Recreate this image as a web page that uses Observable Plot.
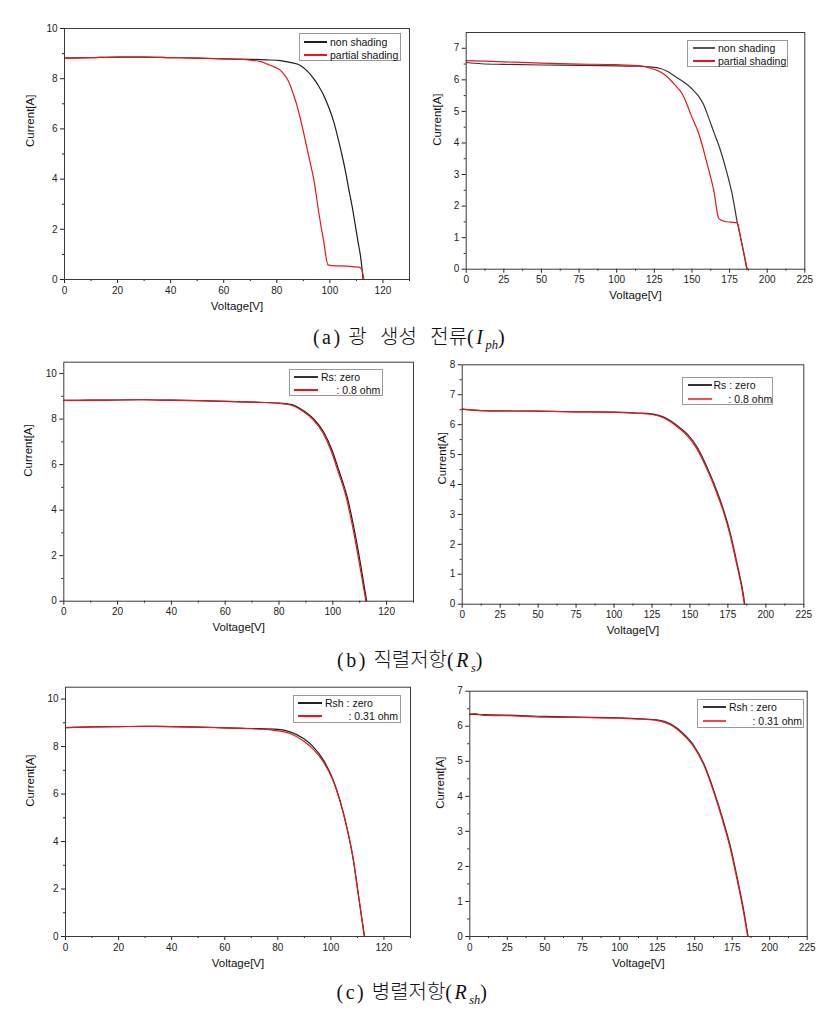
<!DOCTYPE html>
<html><head><meta charset="utf-8">
<script src="https://cdn.jsdelivr.net/npm/d3@7"></script>
<script src="https://cdn.jsdelivr.net/npm/@observablehq/plot@0.6"></script>
<style>
html,body{margin:0;padding:0;background:#fff;}
#root{position:relative;width:828px;height:1010px;overflow:hidden;font-family:"Liberation Sans",Arial,sans-serif;}
.pnl{position:absolute;}
.lg{position:absolute;border:1px solid #999;background:#fff;box-sizing:border-box;}
.lgline{position:absolute;}
.lgtxt{position:absolute;font-size:10.5px;color:#111;line-height:12px;white-space:pre;transform:translateY(-50%);}
.cap{position:absolute;transform:translate(-50%,-50%);white-space:nowrap;color:#111;font-size:20px;}
.lat{font-family:"Liberation Serif","DejaVu Serif",serif;letter-spacing:2.5px;}
.kr{font-family:"Noto Sans CJK KR",sans-serif;font-weight:300;word-spacing:9px;}
.cap i{font-family:"Liberation Serif",serif;}
.cap sub{font-size:12.5px;vertical-align:-5px;letter-spacing:0;}
</style>
</head><body><div id="root"></div>
<script>
// ---------- tick values ----------
const xMajorL = [0, 20, 40, 60, 80, 100, 120];
const xMinorL = [10, 30, 50, 70, 90, 110, 130];
const xMajorR = [0, 25, 50, 75, 100, 125, 150, 175, 200, 225];
const xMinorR = [12.5, 37.5, 62.5, 87.5, 112.5, 137.5, 162.5, 187.5, 212.5];
const yMajor10 = [0, 2, 4, 6, 8, 10];
const yMinor10 = [1, 3, 5, 7, 9];
const yMajor7 = [0, 1, 2, 3, 4, 5, 6, 7];
const yMinor7 = [0.5, 1.5, 2.5, 3.5, 4.5, 5.5, 6.5];
const yMajor8 = [0, 1, 2, 3, 4, 5, 6, 7, 8];
const yMinor8 = [0.5, 1.5, 2.5, 3.5, 4.5, 5.5, 6.5, 7.5];

// ---------- series: [voltage, current] ----------
// (a) photo-generated current, left module
const aL_non = [[0,8.82],[10,8.84],[20,8.86],[30,8.86],[40,8.84],[50,8.82],[60,8.79],[70,8.77],[76,8.75],[81.4,8.72],[85,8.65],[88.9,8.53],[91.5,8.3],[93.9,8.0],[95.8,7.7],[97.7,7.33],[99.6,6.85],[101.5,6.27],[103,5.65],[104.6,4.94],[105.9,4.3],[107.1,3.61],[108.4,2.9],[109.6,2.15],[110.6,1.5],[111.5,0.96],[112.1,0.45],[112.5,0]];
const aL_partial = [[0,8.82],[10,8.84],[20,8.86],[30,8.86],[40,8.84],[50,8.82],[60,8.79],[66,8.77],[70,8.74],[74,8.68],[76.4,8.58],[79,8.47],[81.4,8.33],[82.7,8.18],[83.9,8.0],[85.2,7.7],[86.4,7.33],[87.7,6.9],[88.9,6.4],[90.2,5.8],[91.4,5.21],[92.7,4.6],[93.9,4.01],[95.8,2.68],[97.7,1.49],[99.3,0.58],[101,0.55],[106.5,0.53],[110.9,0.49],[112,0.4],[112.8,0]];
// (a) right module
const aR_non = [[0,6.55],[10,6.51],[25,6.49],[50,6.47],[75,6.46],[100,6.44],[115.8,6.43],[122,6.41],[129.1,6.36],[133.5,6.27],[137.9,6.14],[142.3,6.0],[146.8,5.85],[150.7,5.68],[154.6,5.47],[157.5,5.24],[160.1,4.93],[164.5,4.35],[169,3.76],[173.4,3.03],[176.7,2.39],[180.1,1.49],[182.3,1.01],[186.5,0]];
const aR_partial = [[0,6.61],[25,6.57],[50,6.53],[75,6.5],[100,6.48],[115.8,6.44],[122,6.38],[129.1,6.25],[133.5,6.1],[137.9,5.88],[143.5,5.56],[146.5,5.25],[149,4.93],[154.6,4.29],[160.1,3.34],[164.5,2.5],[167.9,1.6],[171.2,1.52],[176,1.49],[180.1,1.47],[182.3,1.01],[186.7,0]];
// (b) series resistance
const bL_zero = [[0,8.82],[10,8.83],[20,8.84],[30,8.85],[40,8.83],[50,8.81],[60,8.78],[70,8.75],[80,8.7],[84.3,8.65],[89.3,8.36],[93,8.0],[96.7,7.41],[99.8,6.61],[102.3,5.73],[105.4,4.56],[107.8,3.25],[110.3,1.64],[112.6,0]];
const bL_08 = [[0,8.82],[10,8.83],[20,8.84],[30,8.85],[40,8.83],[50,8.81],[60,8.78],[70,8.75],[80,8.69],[84,8.63],[88.9,8.34],[92.6,7.98],[96.3,7.4],[99.4,6.6],[101.9,5.72],[105,4.56],[107.4,3.25],[109.9,1.64],[112.3,0]];
const bR_zero = [[0,6.52],[10,6.48],[25,6.46],[50,6.45],[75,6.43],[100,6.42],[115,6.39],[125,6.36],[132.8,6.25],[141.6,5.97],[148.2,5.69],[154.7,5.25],[161.3,4.58],[166.8,3.91],[172.3,3.13],[176.7,2.35],[181.1,1.35],[185.5,0.23],[186.1,0]];
const bR_08 = [[0,6.52],[10,6.48],[25,6.46],[50,6.45],[75,6.43],[100,6.41],[115,6.38],[125,6.34],[132.8,6.22],[141.6,5.93],[148,5.64],[154.5,5.2],[161,4.54],[166.5,3.87],[172,3.1],[176.4,2.32],[180.8,1.33],[185.2,0.22],[185.8,0]];
// (c) shunt resistance
const cL_zero = [[0,8.8],[10,8.83],[20,8.84],[30,8.85],[40,8.84],[50,8.82],[60,8.79],[70,8.76],[80,8.72],[84.6,8.62],[89.7,8.34],[93.4,7.99],[97.2,7.43],[100.9,6.58],[103.4,5.74],[106,4.61],[108.5,3.21],[110.3,1.8],[112.6,0]];
const cL_031 = [[0,8.8],[10,8.83],[20,8.84],[30,8.85],[40,8.84],[50,8.82],[60,8.79],[70,8.75],[78,8.69],[84.6,8.55],[89.7,8.23],[93.4,7.88],[97.2,7.35],[100.9,6.55],[103.4,5.72],[106,4.6],[108.5,3.2],[110.3,1.8],[112.7,0]];
const cR_zero = [[0,6.34],[10,6.33],[25,6.32],[50,6.28],[75,6.26],[100,6.24],[115,6.21],[125,6.18],[133.8,6.07],[142.7,5.78],[149.4,5.45],[156.1,4.93],[162.7,4.17],[168.3,3.41],[173.9,2.55],[178.3,1.69],[182.7,0.74],[185.6,0]];
const cR_031 = [[0,6.35],[3,6.36],[10,6.31],[25,6.3],[50,6.26],[75,6.25],[100,6.23],[115,6.2],[125,6.16],[133.8,6.04],[142.7,5.74],[149.4,5.41],[156,4.9],[162.5,4.14],[168,3.39],[173.6,2.53],[178,1.67],[182.4,0.73],[185.3,0]];

// ---------- labels ----------
const xLabel = "Voltage[V]";
const yLabel = "Current[A]";
const legA = ["non shading", "partial shading"];
const legBL = ["Rs: zero", ": 0.8 ohm"];
const legBR = ["Rs : zero", ": 0.8 ohm"];
const legC = ["Rsh : zero", ": 0.31 ohm"];

const BLACK = "#1e1e1e", GRAY = "#333", RED = "#e8161b";

const panels = [
  {svg:[0,0,414,318], frame:[64,28,409,279], xd:[0,130], yd:[0,10], xM:xMajorL, xm:xMinorL, yM:yMajor10, ym:yMinor10,
   series:[[aL_non,BLACK],[aL_partial,RED]], ylab:[-34,-7],
   lg:{box:[299,33,401,61], line:[304,327], rows:[[41.5,BLACK,[[legA[0],330]]],[54.5,RED,[[legA[1],330]]]]}},
  {svg:[414,0,414,318], frame:[465.7,32,804.3,268.7], xd:[0,225], yd:[0,7.5], xM:xMajorR, xm:xMinorR, yM:yMajor7, ym:yMinor7,
   series:[[aR_non,GRAY],[aR_partial,RED]], ylab:[-29,-5],
   lg:{box:[687,40,788,67], line:[693,715], rows:[[48,"#555",[[legA[0],718]]],[61,RED,[[legA[1],718]]]]}},
  {svg:[0,350,414,300], frame:[63.3,361.7,413,600.7], xd:[0,130], yd:[0,10.5], xM:xMajorL, xm:xMinorL, yM:yMajor10, ym:yMinor10,
   series:[[bL_zero,BLACK],[bL_08,RED]], ylab:[-35,-5],
   lg:{box:[289,369,383,396], line:[294,318], rows:[[376.7,"#333",[[legBL[0],321]]],[390.3,RED,[[legBL[1],336.5]]]]}},
  {svg:[414,350,414,300], frame:[461.7,364.3,803.3,603.7], xd:[0,225], yd:[0,8], xM:xMajorR, xm:xMinorR, yM:yMajor8, ym:yMinor8,
   series:[[bR_zero,GRAY],[bR_08,RED]], ylab:[-20,0],
   lg:{box:[682,377,773,405], line:[688,712], rows:[[385,"#333",[[legBR[0],713.5]]],[399,"#f05050",[[legBR[1],728.5]]]]}},
  {svg:[0,680,414,300], frame:[65,686.7,410,936], xd:[0,130], yd:[0,10.5], xM:xMajorL, xm:xMinorL, yM:yMajor10, ym:yMinor10,
   series:[[cL_zero,BLACK],[cL_031,RED]], ylab:[-35,-5],
   lg:{box:[293,695,401,723], line:[298,322], rows:[[703.3,"#222",[[legC[0],325]]],[716,RED,[[legC[1],348.5]]]]}},
  {svg:[414,680,414,300], frame:[469.3,690.7,806.7,936], xd:[0,225], yd:[0,7], xM:xMajorR, xm:xMinorR, yM:yMajor7, ym:yMinor7,
   series:[[cR_zero,GRAY],[cR_031,RED]], ylab:[-29,-5],
   lg:{box:[697,699,804,728], line:[703,726], rows:[[707.3,"#333",[[legC[0],729]]],[720.7,"#f04848",[[legC[1],752.5]]]]}}
];

const root = document.getElementById("root");

for (const p of panels) {
  const [sl, st, W, H] = p.svg;
  const [fx0, fy0, fx1, fy1] = p.frame;
  const chart = Plot.plot({
    width: W, height: H,
    marginLeft: fx0 - sl, marginRight: sl + W - fx1,
    marginTop: fy0 - st, marginBottom: st + H - fy1,
    x: {domain: p.xd}, y: {domain: p.yd},
    style: {fontFamily: "'Liberation Sans', Arial, sans-serif", fontSize: "10px", color: "#222", background: "transparent", overflow: "visible"},
    marks: [
      Plot.axisX({ticks: p.xM, tickSize: 4, tickPadding: 3, tickFormat: d => String(d), label: null}),
      Plot.axisX({ticks: p.xm, tickSize: 2, tickFormat: () => "", label: null}),
      Plot.axisY({ticks: p.yM, tickSize: 4, tickPadding: 3, tickFormat: d => String(d), label: null}),
      Plot.axisY({ticks: p.ym, tickSize: 2, tickFormat: () => "", label: null}),
      ...p.series.map(([data, color]) => Plot.line(data, {x: d => d[0], y: d => d[1], stroke: color, strokeWidth: 1.2, curve: "monotone-x"})),
      Plot.frame({stroke: "#3a3a3a", strokeWidth: 1}),
      Plot.text([yLabel], {text: d => d, frameAnchor: "left", dx: p.ylab[0], dy: p.ylab[1], rotate: -90, fontSize: 11.5, fill: "#111"}),
      Plot.text([xLabel], {text: d => d, frameAnchor: "bottom", dy: 30, fontSize: 11.5, fill: "#111"})
    ]
  });
  const wrap = document.createElement("div");
  wrap.className = "pnl";
  wrap.style.left = sl + "px"; wrap.style.top = st + "px";
  wrap.appendChild(chart);
  root.appendChild(wrap);

  // legend box
  const [bx0, by0, bx1, by1] = p.lg.box;
  const lg = document.createElement("div");
  lg.className = "lg";
  lg.style.left = bx0 + "px"; lg.style.top = by0 + "px";
  lg.style.width = (bx1 - bx0) + "px"; lg.style.height = (by1 - by0) + "px";
  root.appendChild(lg);
  for (const [ry, color, texts] of p.lg.rows) {
    const ln = document.createElement("div");
    ln.className = "lgline";
    ln.style.left = p.lg.line[0] + "px"; ln.style.width = (p.lg.line[1] - p.lg.line[0]) + "px";
    ln.style.top = Math.round(ry - 1) + "px";
    ln.style.height = "1.5px";
    ln.style.background = color;
    root.appendChild(ln);
    for (const [t, tx] of texts) {
      const el = document.createElement("div");
      el.className = "lgtxt";
      el.textContent = t;
      el.style.left = tx + "px"; el.style.top = ry + "px";
      root.appendChild(el);
    }
  }
}

// captions
const captions = [
  {x: 410, y: 337, html: '<span class="lat">(a)</span> <span class="kr">광 생성 전류</span><span class="lat">(<i>I</i><sub><i>ph</i></sub>)</span>'},
  {x: 411, y: 660, html: '<span class="lat">(b)</span> <span class="kr">직렬저항</span><span class="lat">(<i>R</i><sub><i>s</i></sub>)</span>'},
  {x: 413, y: 992, html: '<span class="lat">(c)</span> <span class="kr">병렬저항</span><span class="lat">(<i>R</i><sub><i>sh</i></sub>)</span>'}
];
for (const c of captions) {
  const el = document.createElement("div");
  el.className = "cap";
  el.style.left = c.x + "px"; el.style.top = c.y + "px";
  el.innerHTML = c.html;
  root.appendChild(el);
}
</script>
</body></html>
